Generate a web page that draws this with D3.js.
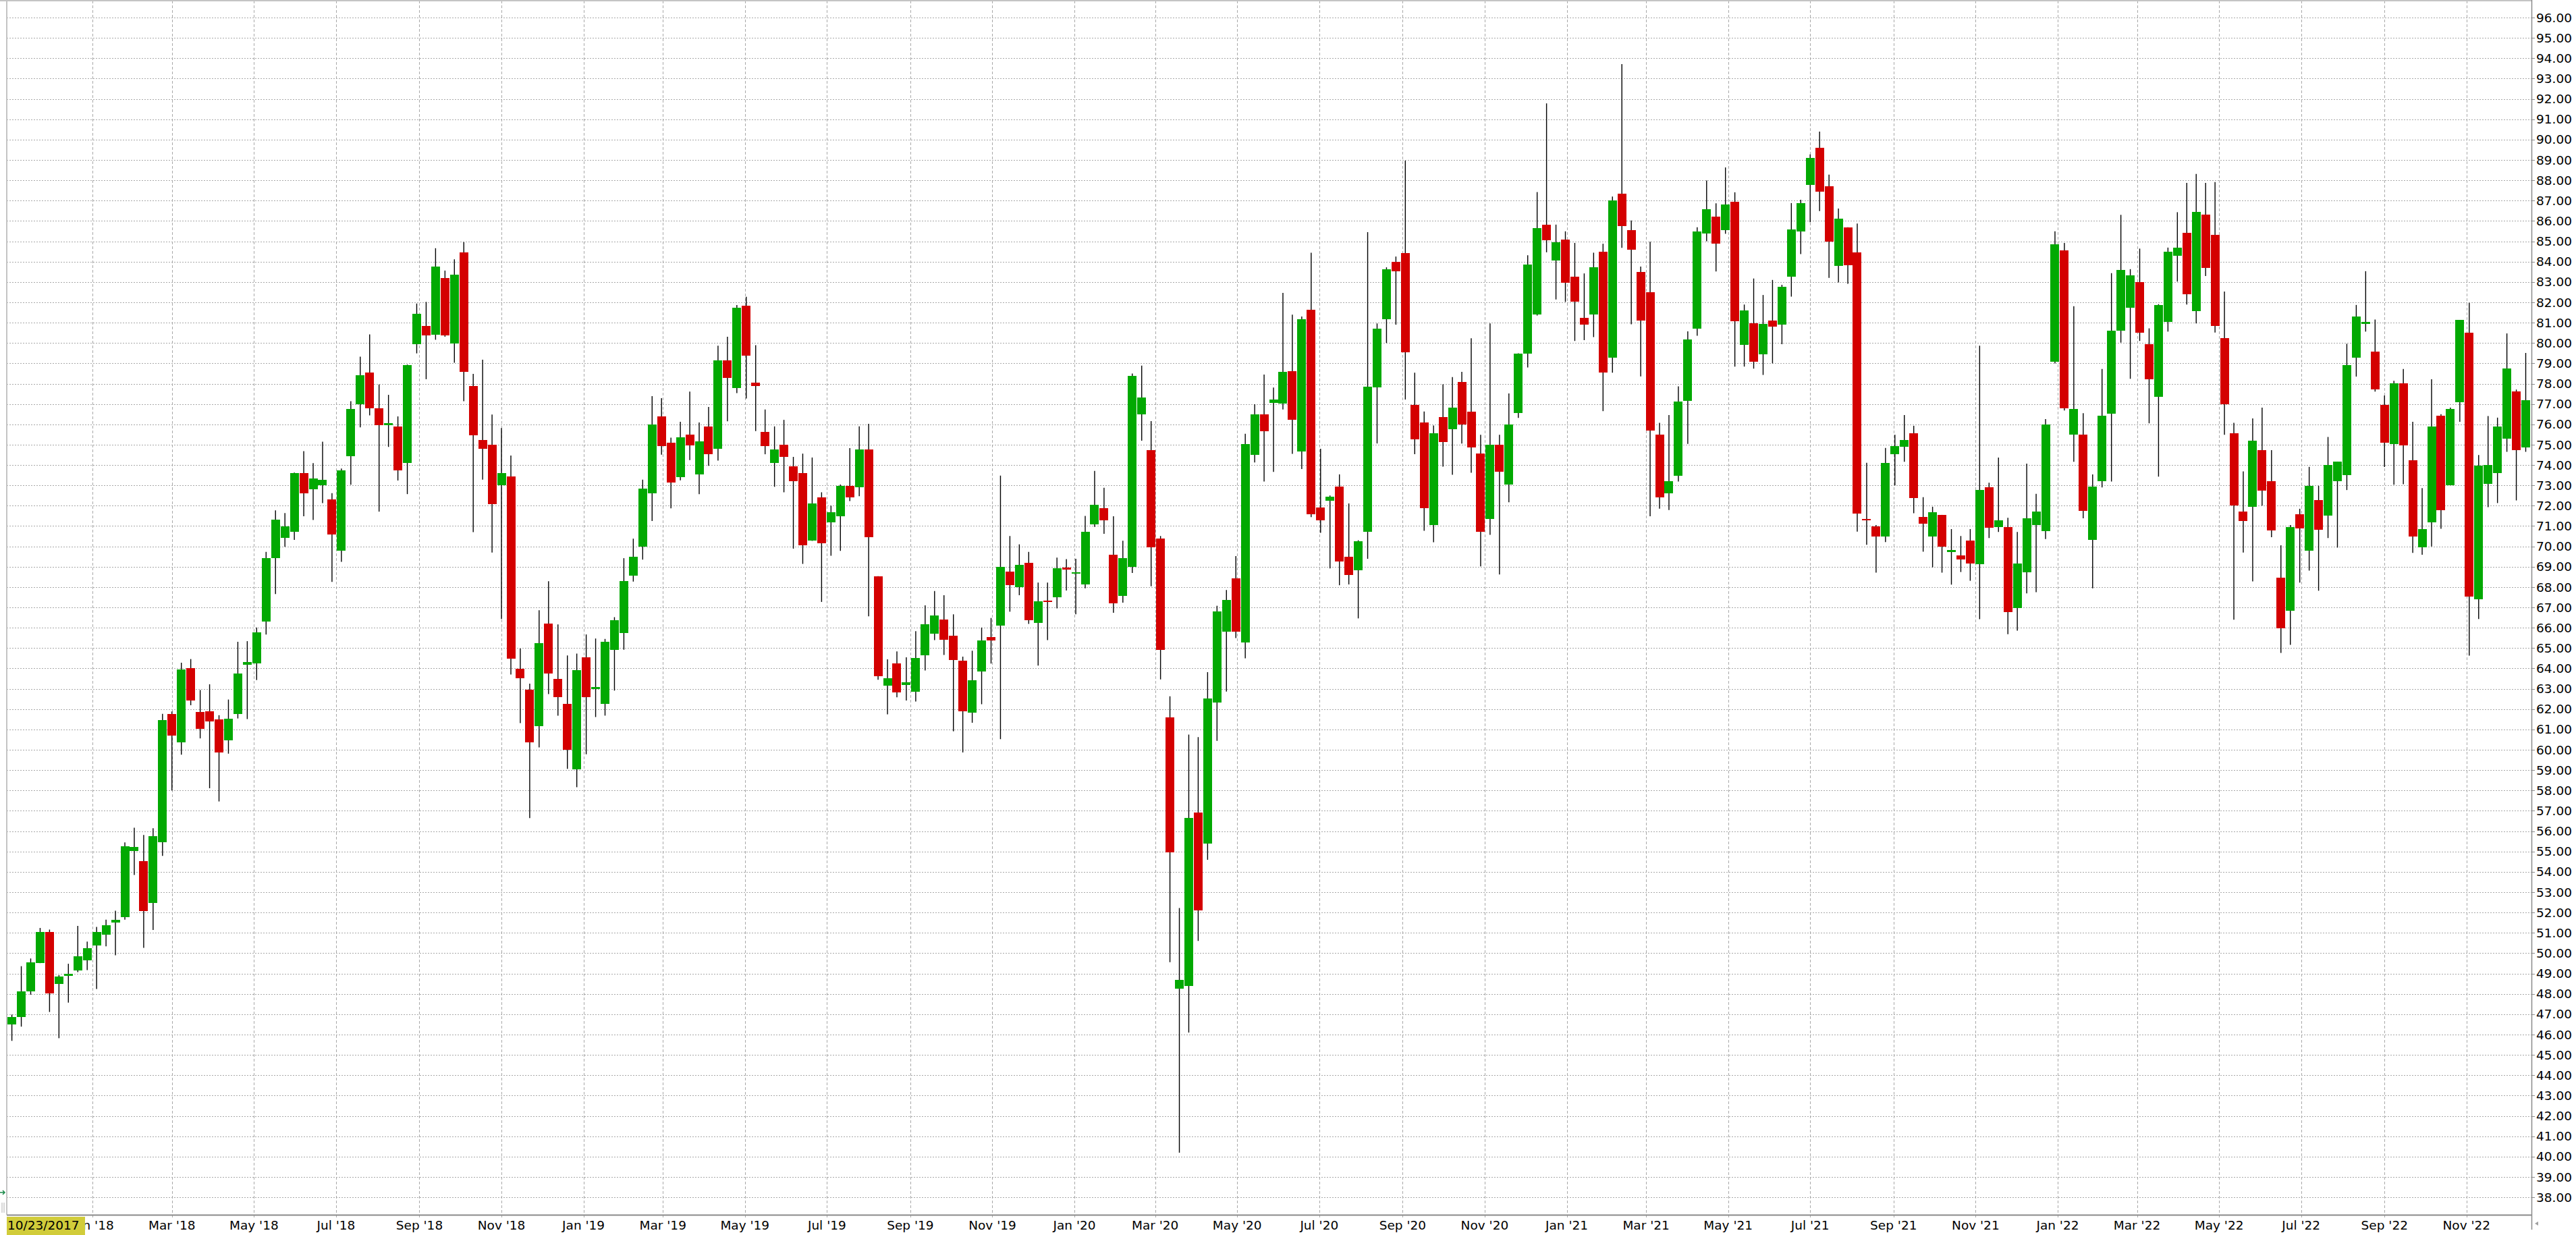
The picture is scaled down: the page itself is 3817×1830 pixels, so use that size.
<!DOCTYPE html>
<html><head><meta charset="utf-8">
<script src="https://cdn.jsdelivr.net/npm/d3@7"></script>
<style>html,body{margin:0;padding:0;background:#fff;overflow:hidden}</style>
</head><body><svg id="chart" width="3817" height="1830"></svg>
<script>
// ---------------- DATA ----------------
const firstCandleDate = "2017-11-02";   // weekly candles
const startLabel = "10/23/2017";
const openP = [
46.49,46.85,48.12,49.51,51.03,48.48,48.89,49.15,49.66,50.39,50.90,51.50,51.78,55.03,54.52,52.48,55.47,61.75,60.35,64.02,
61.85,61.88,61.51,60.48,61.75,64.17,64.25,66.32,69.42,70.42,70.73,73.60,72.80,73.01,72.31,69.80,74.43,76.98,78.56,76.78,
75.95,75.90,74.09,79.93,80.85,80.40,83.19,79.99,84.45,77.88,75.22,75.00,73.02,73.43,63.98,62.96,61.16,66.20,63.49,62.25,
59.03,64.54,62.98,62.27,64.90,65.75,68.57,69.99,72.62,76.39,75.09,73.40,75.49,73.53,75.90,74.81,79.14,77.80,81.83,78.05,
75.62,74.09,75.00,73.94,73.60,70.27,72.42,71.19,71.48,72.99,72.91,74.76,68.54,63.15,64.24,63.17,62.84,64.66,65.70,66.40,
65.62,64.37,61.82,63.85,65.54,66.12,68.77,67.99,69.19,66.25,67.34,67.50,68.95,68.67,68.12,71.09,71.87,69.60,67.57,69.00,
76.50,74.73,70.38,61.59,48.24,48.39,56.93,55.39,62.32,65.80,68.43,65.26,74.50,76.50,77.07,77.01,78.62,74.66,81.63,71.91,
72.26,72.93,69.49,68.84,70.73,77.81,81.18,83.99,84.43,76.97,76.10,71.06,76.36,75.75,78.09,76.63,74.57,71.36,75.00,73.03,
76.57,79.49,81.39,85.82,84.07,85.07,83.26,81.24,81.39,84.48,79.29,87.34,85.55,83.50,82.50,75.49,72.60,73.46,77.15,80.72,
85.37,86.21,85.56,86.94,79.92,80.97,79.45,81.11,80.89,83.25,85.47,87.76,89.60,87.71,83.80,85.69,84.45,71.35,70.98,70.48,
74.52,74.89,75.56,71.45,70.48,71.55,69.74,69.56,70.29,69.11,72.90,70.96,70.95,66.98,68.74,71.05,70.76,79.09,84.55,75.51,
75.49,70.31,73.20,76.52,80.60,81.73,83.00,79.94,77.37,81.05,84.29,85.40,81.58,86.31,85.33,80.25,75.57,71.72,71.93,74.73,
73.20,68.46,66.82,71.58,69.78,72.29,71.50,73.22,73.49,79.27,80.93,79.59,76.94,75.02,78.03,74.23,69.94,71.18,76.41,73.01,
77.10,80.51,67.41,73.09,73.61,75.28,77.63,74.86];
const highP = [
46.98,49.36,49.74,51.24,51.16,48.92,49.48,51.34,50.57,51.29,51.65,52.09,55.45,56.17,55.81,56.14,61.77,61.88,64.28,64.46,
62.94,63.22,61.70,62.47,65.31,65.34,66.01,69.73,71.77,71.64,73.63,74.68,74.09,75.15,72.62,73.83,77.14,79.33,80.42,77.96,
77.45,76.39,78.94,81.94,82.02,84.66,83.56,84.11,84.96,78.48,79.18,76.48,75.82,74.47,64.98,63.25,66.86,68.29,66.16,64.64,
64.73,65.67,65.47,65.45,66.52,69.42,70.38,73.28,77.39,77.29,75.35,76.13,77.61,76.09,76.86,79.87,80.31,81.87,82.27,79.89,
76.73,75.90,76.22,74.40,74.56,74.37,72.66,72.00,73.04,74.83,75.90,76.03,68.54,64.45,64.84,64.55,65.83,67.10,67.81,67.60,
66.66,64.58,64.87,66.01,66.48,73.48,70.51,70.10,69.73,68.22,68.22,69.45,69.37,69.39,71.50,73.71,72.88,71.48,70.28,78.50,
78.89,76.16,70.51,62.63,52.22,60.75,60.62,63.82,67.08,67.86,69.52,75.54,76.99,78.45,77.81,82.46,81.39,81.30,84.44,74.80,
72.50,73.54,72.11,70.30,85.45,80.96,83.72,84.25,88.97,78.54,76.63,75.94,77.97,78.32,78.58,80.23,75.49,80.96,75.49,77.52,
79.49,84.31,87.42,91.78,85.82,85.49,84.92,83.42,84.44,84.88,87.20,93.71,86.02,83.76,84.98,76.08,76.46,77.87,80.57,85.69,
87.99,86.87,88.63,87.41,81.89,83.17,82.36,83.10,82.86,86.88,87.04,89.27,90.39,88.28,86.61,85.69,85.87,74.11,71.05,74.84,
75.49,76.46,75.93,72.42,71.95,71.55,70.85,70.51,70.85,79.87,73.13,74.37,71.41,70.71,74.07,72.58,76.26,85.49,84.92,81.81,
76.55,73.54,78.72,83.43,86.30,83.63,84.64,80.72,81.91,84.69,86.43,87.87,88.31,87.87,87.91,82.53,76.08,73.69,76.29,76.82,
74.73,70.05,71.05,71.85,73.91,72.98,75.38,74.17,79.96,81.87,83.53,81.15,77.42,78.14,78.72,76.13,72.87,78.22,76.50,76.82,
81.12,81.97,74.49,76.41,76.33,80.47,77.71,79.51];
const lowP = [
45.69,46.39,47.96,49.51,47.11,45.82,47.57,49.07,49.17,48.24,50.34,49.90,51.65,53.85,50.26,51.14,54.78,58.00,59.76,62.19,
60.56,58.11,57.46,59.81,61.54,61.51,63.43,65.67,67.66,69.98,70.32,71.48,71.30,72.13,68.25,69.24,73.03,75.85,76.44,71.71,
74.89,73.24,72.57,79.49,78.22,80.16,80.31,79.03,77.14,70.70,73.28,69.70,66.43,63.70,61.31,56.64,60.12,62.74,61.68,59.06,
58.16,59.78,61.61,61.68,62.91,64.92,68.27,69.35,71.25,74.51,71.87,73.25,74.24,72.57,73.96,74.22,76.15,77.54,77.27,75.67,
74.53,72.93,72.66,69.89,69.14,70.27,67.27,69.54,69.78,72.23,72.47,66.56,63.44,61.74,62.58,62.42,62.37,63.90,65.39,64.66,
60.91,59.87,61.33,62.24,64.24,60.52,66.79,67.60,66.19,64.14,65.39,66.95,67.83,66.66,67.94,70.96,70.62,66.74,67.23,68.69,
75.20,68.04,63.46,49.56,40.19,46.10,50.60,54.59,60.44,62.86,65.49,64.50,74.13,73.19,73.66,76.73,74.55,73.80,71.44,70.67,
68.92,68.09,68.13,66.46,69.39,75.06,80.00,80.90,77.22,74.53,70.77,70.20,73.92,73.52,75.06,73.62,69.02,70.57,68.62,72.17,
76.32,78.80,81.35,84.46,82.14,82.02,80.10,80.14,80.29,76.65,78.54,84.68,80.92,78.36,71.48,71.85,71.79,73.19,75.04,80.36,
85.00,83.52,85.37,78.84,78.84,78.74,78.43,79.00,79.94,82.28,84.37,85.94,86.49,83.20,82.98,82.91,70.73,70.08,68.71,70.21,
73.00,74.16,71.63,69.74,68.97,68.71,68.12,68.74,68.31,66.42,70.41,70.71,65.68,65.86,67.69,67.75,70.36,79.00,76.68,74.16,
71.38,67.94,72.90,73.19,80.02,78.24,80.10,76.05,73.43,80.56,83.02,81.89,80.96,83.29,80.51,75.49,66.40,69.70,68.28,72.00,
70.45,64.76,65.16,68.22,68.81,67.82,70.41,69.94,72.77,78.35,80.56,77.61,73.90,73.03,73.06,69.68,69.59,70.00,70.87,73.01,
76.13,64.63,66.43,71.93,72.13,74.65,72.26,74.65];
const closeP = [
46.85,48.12,49.54,51.03,48.01,48.84,48.97,49.85,50.26,51.03,51.39,51.65,55.24,55.22,52.07,55.76,61.46,60.69,63.94,62.42,
61.02,61.41,59.86,61.54,63.74,64.30,65.78,69.42,71.30,70.97,73.60,72.62,73.34,73.26,70.60,73.75,76.75,78.40,76.80,75.95,
76.05,73.75,78.92,81.45,80.36,83.75,80.36,83.36,78.59,75.45,74.79,72.08,73.60,64.47,63.53,60.35,65.24,63.74,62.60,59.99,
63.92,62.60,63.08,65.32,66.37,68.29,69.50,72.83,75.99,74.94,73.13,75.35,74.98,75.17,74.53,79.14,78.27,81.74,79.37,77.90,
74.94,74.77,74.40,73.19,70.04,72.11,70.14,71.68,72.99,72.41,74.76,70.44,63.62,63.51,62.81,63.33,64.50,66.17,66.61,65.41,
64.40,61.90,63.41,65.39,65.36,69.00,68.09,69.08,66.38,67.31,67.26,68.93,68.85,68.74,70.72,72.05,71.29,67.21,69.41,78.37,
77.33,69.97,64.92,54.95,48.68,56.64,52.09,62.52,66.79,67.36,65.80,75.04,76.50,75.67,77.22,78.58,76.24,81.18,71.57,71.28,
72.44,69.25,68.60,70.26,77.85,80.71,83.62,83.52,79.53,75.25,71.87,75.57,75.14,76.83,75.98,74.88,70.73,75.00,73.68,75.98,
79.49,83.85,85.65,85.04,84.96,82.95,82.04,80.92,83.72,78.56,87.00,85.74,84.60,81.10,75.71,72.40,73.21,77.12,80.17,85.49,
86.57,84.90,86.81,81.06,81.59,79.07,80.94,80.82,82.76,85.59,86.88,89.10,87.43,84.99,86.11,83.83,71.60,71.28,70.48,74.11,
74.92,75.22,72.38,71.11,71.68,69.99,69.81,69.37,69.16,72.77,70.91,71.28,66.78,69.16,71.38,71.72,75.99,84.85,76.80,76.75,
71.76,72.95,76.44,80.59,83.60,83.31,80.49,78.21,81.87,84.50,84.69,82.39,86.43,83.68,80.83,76.98,72.00,71.24,75.20,72.74,
70.78,65.97,70.95,70.87,72.98,70.81,74.01,74.17,78.91,81.31,81.05,77.72,75.09,78.03,74.96,70.50,70.86,75.91,71.77,76.76,
81.12,67.53,73.98,74.01,75.91,78.75,74.72,77.19];
const yTickValues = [38,39,40,41,42,43,44,45,46,47,48,49,50,51,52,53,54,55,56,57,58,59,60,61,62,63,64,65,66,67,
  68,69,70,71,72,73,74,75,76,77,78,79,80,81,82,83,84,85,86,87,88,89,90,91,92,93,94,95,96];
const xTickDates = ["2018-01-01","2018-03-01","2018-05-01","2018-07-01","2018-09-01","2018-11-01",
  "2019-01-01","2019-03-01","2019-05-01","2019-07-01","2019-09-01","2019-11-01",
  "2020-01-01","2020-03-01","2020-05-01","2020-07-01","2020-09-01","2020-11-01",
  "2021-01-01","2021-03-01","2021-05-01","2021-07-01","2021-09-01","2021-11-01",
  "2022-01-01","2022-03-01","2022-05-01","2022-07-01","2022-09-01","2022-11-01"];

// ---------------- LAYOUT ----------------
const W = 3817, H = 1830;
const L = 10, R = 3751, T = 1, B = 1800;
const FONT = "'DejaVu Sans', Verdana, sans-serif";
const GREEN = "#02a902", RED = "#d40000";

const parse = d3.utcParse("%Y-%m-%d");
const t0 = parse(firstCandleDate);
const candles = openP.map((o, i) => ({
  date: d3.utcDay.offset(t0, 7 * i),
  open: o, high: highP[i], low: lowP[i], close: closeP[i]
}));

const DAY = 864e5;
const x = d3.scaleUtc()
  .domain([new Date(t0.getTime() - 3.813 * DAY), new Date(t0.getTime() + 1873.26 * DAY)])
  .range([L, R]);
const y = d3.scaleLinear().domain([37.14, 96.83]).range([B, T]);

const svg = d3.select("#chart");
svg.append("rect").attr("width", W).attr("height", H).attr("fill", "#fff");

// grid
const grid = svg.append("g");
grid.selectAll("line.h").data(yTickValues).join("line")
  .attr("x1", L).attr("x2", R)
  .attr("y1", d => Math.round(y(d)) + 0.5).attr("y2", d => Math.round(y(d)) + 0.5)
  .attr("stroke", "#a8a8a8").attr("stroke-width", 1).attr("stroke-dasharray", "2,2");
const xTicks = xTickDates.map(parse);
grid.selectAll("line.v").data(xTicks).join("line")
  .attr("x1", d => Math.round(x(d)) + 0.5).attr("x2", d => Math.round(x(d)) + 0.5)
  .attr("y1", T).attr("y2", B + 4)
  .attr("stroke", "#a8a8a8").attr("stroke-width", 1).attr("stroke-dasharray", "4,3");

// frame
svg.append("line").attr("x1", 0).attr("x2", R).attr("y1", 1).attr("y2", 1).attr("stroke", "#c4c4c4").attr("stroke-width", 2);
svg.append("line").attr("x1", L).attr("x2", L).attr("y1", 0).attr("y2", B).attr("stroke", "#c4c4c4").attr("stroke-width", 2);

// candles
const bw = 13;
const cg = svg.append("g");
cg.selectAll("line.wick").data(candles).join("line")
  .attr("x1", d => x(d.date)).attr("x2", d => x(d.date))
  .attr("y1", d => y(d.high)).attr("y2", d => y(d.low))
  .attr("stroke", "#000").attr("stroke-width", 1.4);
cg.selectAll("rect.body").data(candles).join("rect")
  .attr("x", d => x(d.date) - bw / 2)
  .attr("width", bw)
  .attr("y", d => y(Math.max(d.open, d.close)))
  .attr("height", d => Math.max(2.5, Math.abs(y(d.open) - y(d.close))))
  .attr("fill", d => d.close >= d.open ? GREEN : RED)
  .attr("shape-rendering", "crispEdges");

// axes lines
svg.append("line").attr("x1", L).attr("x2", R).attr("y1", B + 0.5).attr("y2", B + 0.5).attr("stroke", "#8a8a8a").attr("stroke-width", 2);
svg.append("line").attr("x1", R + 0.5).attr("x2", R + 0.5).attr("y1", 0).attr("y2", 1822).attr("stroke", "#8a8a8a").attr("stroke-width", 1.5);

// y axis labels (right)
const ya = svg.append("g");
ya.selectAll("line").data(yTickValues).join("line")
  .attr("x1", R).attr("x2", R + 5)
  .attr("y1", d => Math.round(y(d)) + 0.5).attr("y2", d => Math.round(y(d)) + 0.5)
  .attr("stroke", "#8a8a8a");
ya.selectAll("text").data(yTickValues).join("text")
  .attr("x", R + 7).attr("y", d => y(d) + 6.6)
  .attr("font-family", FONT).attr("font-size", 18.5).attr("fill", "#000")
  .text(d => d3.format(".2f")(d));

// x axis labels
const fmt = d3.utcFormat("%b '%y");
svg.append("g").selectAll("text").data(xTicks).join("text")
  .attr("x", d => x(d)).attr("y", 1822)
  .attr("text-anchor", "middle")
  .attr("font-family", FONT).attr("font-size", 18.5).attr("fill", "#000")
  .text(d => fmt(d));

// start date marker
svg.append("rect").attr("x", L).attr("y", 1803).attr("width", 116).attr("height", 27).attr("fill", "#d1cc3a");
svg.append("text").attr("x", L + 1).attr("y", 1822)
  .attr("font-family", FONT).attr("font-size", 18.5).attr("fill", "#000").text(startLabel);

// small widgets
svg.append("path").attr("d", "M0,1767 L7,1767 M4,1764 L7,1767 L4,1770").attr("stroke", "#1a8a4a").attr("stroke-width", 1.5).attr("fill", "none");
svg.append("line").attr("x1", 3).attr("x2", 3).attr("y1", 1782).attr("y2", 1797).attr("stroke", "#b0b0b0");
svg.append("line").attr("x1", 6).attr("x2", 6).attr("y1", 1782).attr("y2", 1797).attr("stroke", "#b0b0b0");
svg.append("path").attr("d", "M3756,1813 L3761,1810 L3761,1816 Z").attr("fill", "#a0a0a0");
</script></body></html>
